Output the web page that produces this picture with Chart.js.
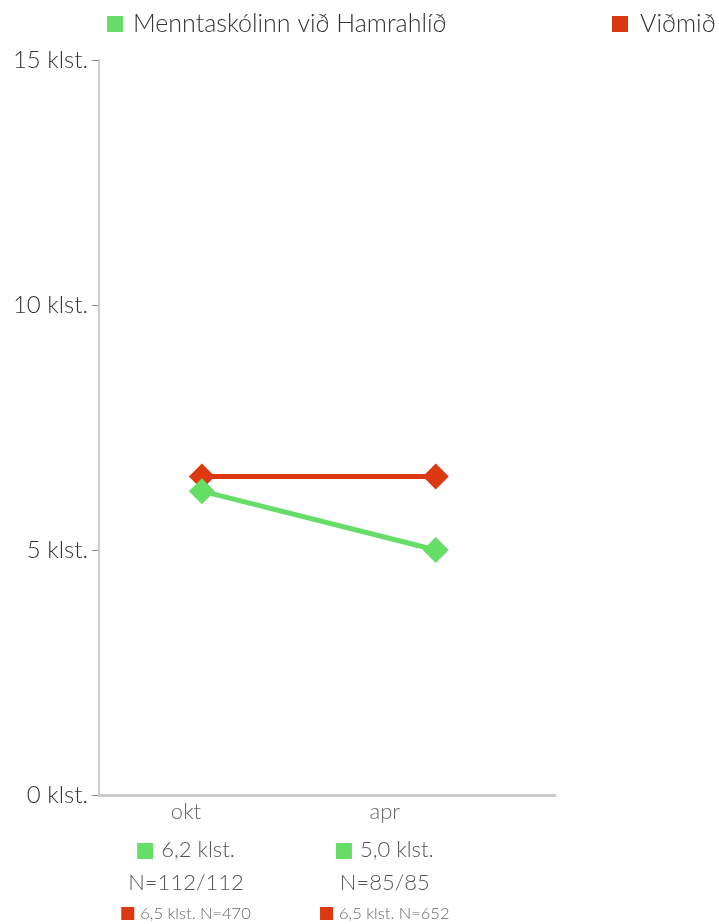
<!DOCTYPE html>
<html>
<head>
<meta charset="utf-8">
<script src="https://cdn.jsdelivr.net/npm/chart.js@4/dist/chart.umd.min.js"></script>
<style>
  html, body { margin: 0; padding: 0; background: #fff; overflow: hidden; }
  #wrap { width: 719px; height: 924px; }
</style>
</head>
<body>
<div id="wrap"><canvas id="chart" width="719" height="924"></canvas></div>
<script>
const periods = ['okt', 'apr'];
const schoolName = 'Menntaskólinn við Hamrahlíð';
const refName = 'Viðmið';
const schoolValues = [6.2, 5.0];
const refValues = [6.5, 6.5];
const schoolN = ['N=112/112', 'N=85/85'];
const refN = ['N=470', 'N=652'];
const yTicks = [0, 5, 10, 15];

const GREEN = '#66dd66';
const RED = '#dc3912';
const FONT = 'Lato, "Open Sans", sans-serif';

const fmt = v => v.toFixed(1).replace('.', ',') + ' klst.';

// legend + per-period labels under the x axis
const labelsPlugin = {
    id: 'labels',
    afterDraw(chart) {
        const ctx = chart.ctx;
        const x = chart.scales.x;
        ctx.save();
        ctx.textBaseline = 'middle';
        // legend
        ctx.font = '300 25px ' + FONT;
        ctx.fillStyle = GREEN; ctx.fillRect(107, 16, 16, 16);
        ctx.fillStyle = '#333'; ctx.textAlign = 'left';
        ctx.fillText(schoolName, 133, 24);
        ctx.fillStyle = RED; ctx.fillRect(612, 16, 16, 16);
        ctx.fillStyle = '#333';
        ctx.fillText(refName, 640, 24);
        // labels below axis
        const labelPos = [-0.068, 0.782];
        periods.forEach((p, i) => {
            const cx = x.getPixelForValue(labelPos[i]);
            ctx.textAlign = 'center';
            ctx.fillStyle = '#666';
            ctx.font = '300 22px ' + FONT;
            ctx.fillText(p, cx, 812);

            const t1 = fmt(schoolValues[i]);
            const w1 = ctx.measureText(t1).width + 24;
            const l1 = cx - w1 / 2;
            ctx.fillStyle = GREEN; ctx.fillRect(l1, 843, 16, 16);
            ctx.fillStyle = '#555'; ctx.textAlign = 'left';
            ctx.fillText(t1, l1 + 24, 850);

            ctx.textAlign = 'center';
            ctx.font = '300 22px ' + FONT;
            ctx.fillText(schoolN[i], cx, 883);

            const t2 = fmt(refValues[i]) + ' ' + refN[i];
            ctx.font = '300 16.5px ' + FONT;
            const w2 = ctx.measureText(t2).width + 19;
            const l2 = cx - w2 / 2;
            ctx.fillStyle = RED; ctx.fillRect(l2, 907, 13, 13);
            ctx.fillStyle = '#666'; ctx.textAlign = 'left';
            ctx.fillText(t2, l2 + 19, 914);
        });
        ctx.restore();
    }
};

new Chart(document.getElementById('chart'), {
    type: 'line',
    data: {
        datasets: [
            {
                label: schoolName,
                data: schoolValues.map((v, i) => ({ x: i, y: v })),
                borderColor: GREEN, backgroundColor: GREEN,
                borderWidth: 5, pointStyle: 'rectRot', pointRadius: 13,
                pointBorderWidth: 0
            },
            {
                label: refName,
                data: refValues.map((v, i) => ({ x: i, y: v })),
                borderColor: RED, backgroundColor: RED,
                borderWidth: 5, pointStyle: 'rectRot', pointRadius: 13,
                pointBorderWidth: 0
            }
        ]
    },
    options: {
        responsive: false,
        animation: false,
        layout: { padding: { top: 60, right: 164, left: 0, bottom: 0 } },
        plugins: { legend: { display: false }, tooltip: { enabled: false } },
        scales: {
            x: {
                type: 'linear', min: -0.44, max: 1.51,
                afterBuildTicks: s => { s.ticks = periods.map((p, i) => ({ value: i })); },
                afterFit: s => { s.height = 129; },
                ticks: { display: false },
                grid: { drawOnChartArea: false, drawTicks: false, color: 'rgba(0,0,0,0)' },
                border: { color: '#cccccc', width: 3 }
            },
            y: {
                min: 0, max: 15,
                afterBuildTicks: s => { s.ticks = yTicks.map(v => ({ value: v })); },
                afterFit: s => { s.width = 99; },
                ticks: {
                    callback: v => v + ' klst.',
                    color: '#333', padding: 4,
                    font: { family: FONT, size: 24, weight: 300 }
                },
                grid: { drawOnChartArea: false, tickLength: 7, color: '#888', lineWidth: 1 },
                border: { color: '#cccccc', width: 2 }
            }
        }
    },
    plugins: [labelsPlugin]
});
</script>
</body>
</html>
